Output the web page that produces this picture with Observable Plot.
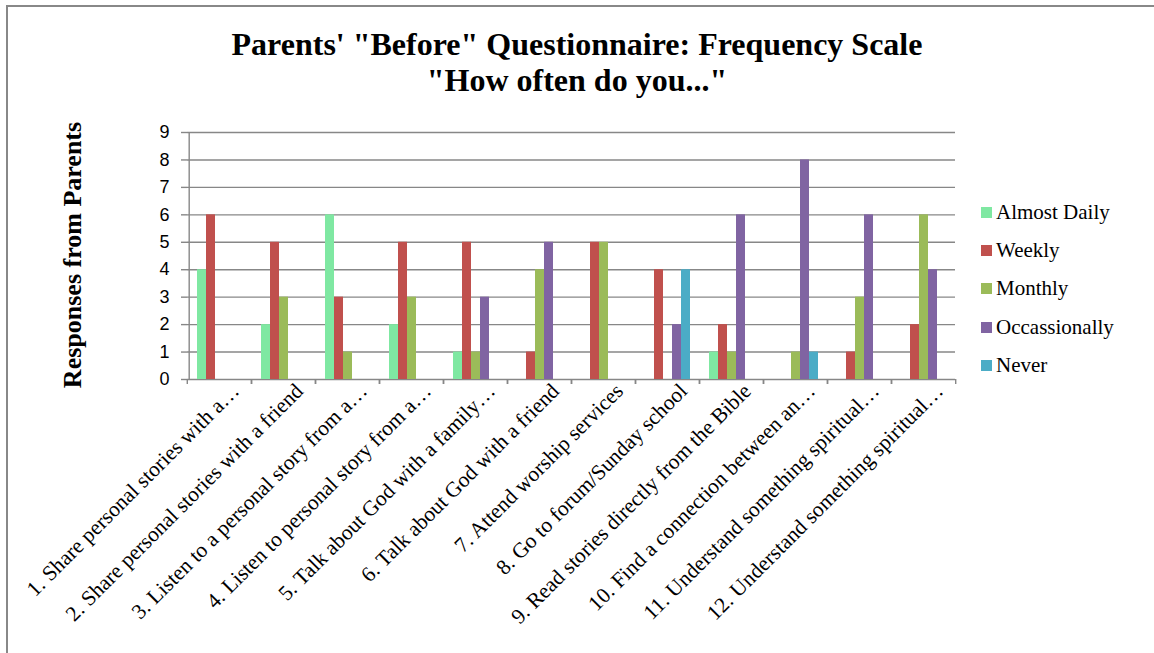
<!DOCTYPE html>
<html>
<head>
<meta charset="utf-8">
<script src="https://cdn.jsdelivr.net/npm/d3@7"></script>
<script src="https://cdn.jsdelivr.net/npm/@observablehq/plot@0.6"></script>
<style>
  html, body { margin: 0; padding: 0; background: #fff; }
  #frame { position: relative; width: 1154px; height: 653px; overflow: hidden; }
  #border { position: absolute; left: 6px; top: 5px; width: 1160px; height: 700px;
            border-left: 2px solid #888; border-top: 2px solid #888; }
  #title { position: absolute; left: 0; top: 26px; width: 1154px; text-align: center;
           font-family: "Liberation Serif", serif; font-weight: bold; font-size: 32px; line-height: 36px;
           color: #000; }
  #ylabel { position: absolute; left: 73px; top: 255px; transform: translate(-50%, -50%) rotate(-90deg);
            white-space: nowrap; font-family: "Liberation Serif", serif; font-weight: bold; font-size: 26px; color: #000; }
  #chart { position: absolute; left: 0; top: 110px; }
  #legend { position: absolute; left: 981px; top: 193px; font-family: "Liberation Serif", serif; font-size: 21px; color: #000; }
  .item { display: flex; align-items: center; height: 38.3px; }
  .sw { width: 11px; height: 11px; margin-right: 4px; }
</style>
</head>
<body>
<div id="frame">
  <div id="border"></div>
  <div id="title">Parents' "Before" Questionnaire: Frequency Scale<br>"How often do you..."</div>
  <div id="ylabel">Responses from Parents</div>
  <div id="chart"></div>
  <div id="legend"></div>
</div>
<script>
// Survey questions (axis labels as shown, long ones shortened)
const categories = [
  "1. Share personal stories with a…",
  "2. Share personal stories with a friend",
  "3. Listen to a personal story from a…",
  "4. Listen to personal story from a…",
  "5. Talk about God with a family…",
  "6. Talk about God with a friend",
  "7. Attend worship services",
  "8. Go to forum/Sunday school",
  "9. Read stories directly from the Bible",
  "10. Find a connection between an…",
  "11. Understand something spiritual…",
  "12. Understand something spiritual…"
];
const series = ["Almost Daily", "Weekly", "Monthly", "Occassionally", "Never"];
const colors = ["#7fe8a2", "#c0504d", "#9bbb59", "#8064a2", "#4bacc6"];

// Number of parents giving each answer, per question
const almostDaily  = [4, 2, 6, 2, 1, 0, 0, 0, 1, 0, 0, 0];
const weekly       = [6, 5, 3, 5, 5, 1, 5, 4, 2, 0, 1, 2];
const monthly      = [0, 3, 1, 3, 1, 4, 5, 0, 1, 1, 3, 6];
const occasionally = [0, 0, 0, 0, 3, 5, 0, 2, 6, 8, 6, 4];
const never        = [0, 0, 0, 0, 0, 0, 0, 4, 0, 1, 0, 0];
const yTicks = [0, 1, 2, 3, 4, 5, 6, 7, 8, 9];

const valuesBySeries = [almostDaily, weekly, monthly, occasionally, never];
const rows = categories.flatMap((category, i) =>
  series.map((s, j) => ({category, series: s, value: valuesBySeries[j][i]}))
).filter(d => d.value > 0);

const width = 1154, height = 543;
const marginLeft = 184, marginRight = 197, marginTop = 22, marginBottom = 274;
const step = (width - marginLeft - marginRight) / categories.length;
const outer = 0.82;
const innerStep = step / (series.length + 2 * outer);
const gridColor = "#878787";

const chart = Plot.plot({
  width, height, marginLeft, marginRight, marginTop, marginBottom,
  style: {fontFamily: "Liberation Serif, serif", fontSize: "17px", color: "#000", background: "transparent", overflow: "visible"},
  fx: {domain: categories, padding: 0, axis: null, label: null},
  x: {domain: series, paddingInner: 0, paddingOuter: outer, axis: null},
  y: {domain: [0, 9], axis: null, label: null},
  color: {domain: series, range: colors},
  marks: [
    Plot.gridY(yTicks, {stroke: gridColor, strokeOpacity: 1, strokeWidth: 1.4}),
    Plot.barY(rows, {fx: "category", x: "series", y: "value", fill: "series"}),
    // vertical value axis line
    Plot.ruleX([categories[0]], {fx: d => d, x: () => series[0], y1: 0, y2: 9,
      dx: -innerStep * (outer + 0.5), stroke: gridColor, strokeWidth: 1.4}),
    Plot.axisY(yTicks, {tickSize: 6, tickPadding: 12, stroke: gridColor, strokeWidth: 1.4,
      fontFamily: "Liberation Sans, sans-serif", fontSize: 18}),
    // category boundary ticks
    Plot.axisFx({anchor: "bottom", tickSize: 5, fill: "none", tickFormat: () => "", dx: -step / 2, stroke: gridColor, strokeWidth: 1.4}),
    Plot.axisFx({anchor: "bottom", tickSize: 5, fill: "none", tickFormat: () => "", dx: step / 2, stroke: gridColor, strokeWidth: 1.4}),
    Plot.axisFx({anchor: "bottom", tickSize: 0, tickRotate: -45, tickPadding: 8, dx: 16, fontSize: 21.5, fill: "#000",
      lineWidth: Infinity, textOverflow: null})
  ]
});
document.getElementById("chart").append(chart);

const legend = d3.select("#legend");
series.forEach((s, i) => {
  const item = legend.append("div").attr("class", "item");
  item.append("div").attr("class", "sw").style("background", colors[i]);
  item.append("span").text(s);
});
</script>
</body>
</html>
